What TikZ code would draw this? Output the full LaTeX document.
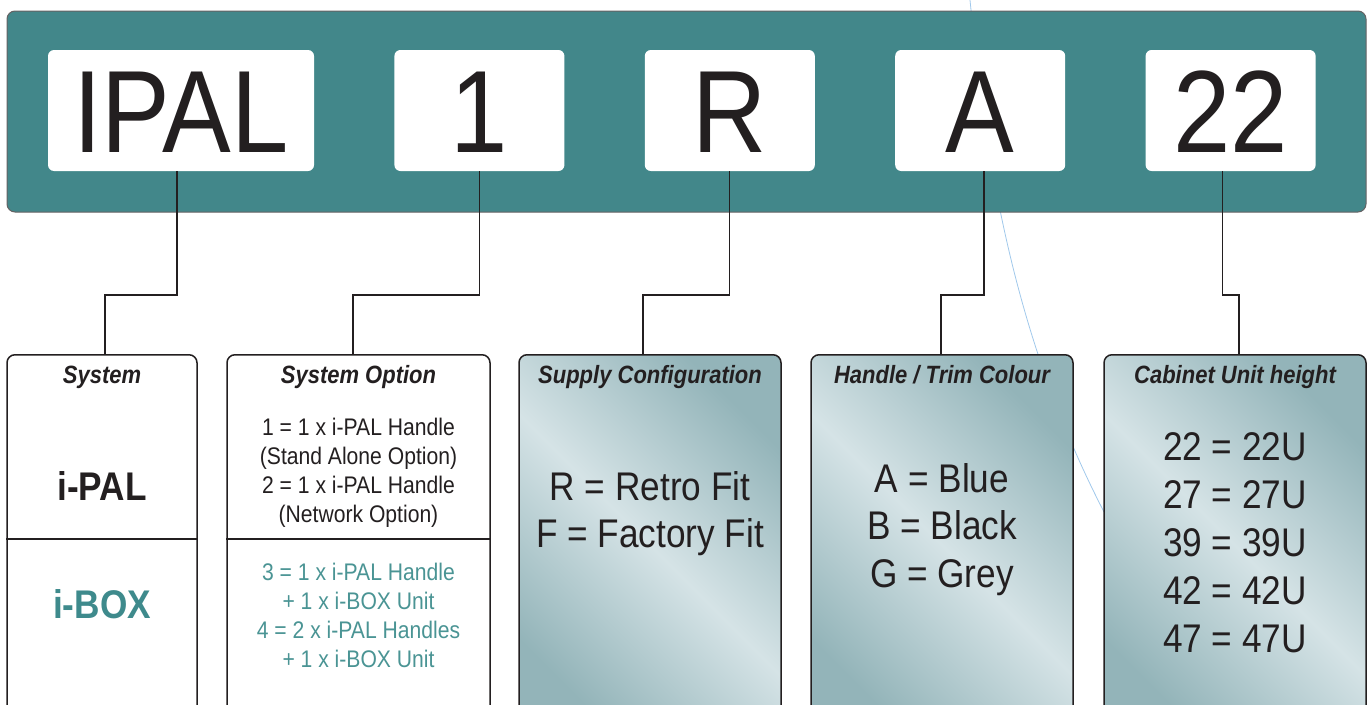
\documentclass[tikz,border=0pt]{standalone}
\usepackage{fontspec}
\newfontfamily\hfont[FakeStretch=0.88]{Liberation Sans}
\usetikzlibrary{positioning}
\definecolor{barteal}{RGB}{66,135,138}
\definecolor{ibox}{RGB}{62,138,140}
\definecolor{optteal}{RGB}{74,148,148}
\definecolor{ink}{RGB}{35,31,32}
\definecolor{shdark}{RGB}{147,180,185}
\definecolor{shlight}{RGB}{213,227,230}
\definecolor{streak}{RGB}{160,200,235}

\begin{document}
\begin{tikzpicture}[x=1pt, y=-1pt]
    \tikzstyle{codebox}=[fill=white, rounded corners=6pt, minimum height=121pt, inner sep=0pt, text height=84pt, text depth=0pt, text=ink, font=\hfont\fontsize{117}{117}\selectfont]
    \tikzstyle{keybox}=[draw=ink, fill=white, line width=1.5pt, rounded corners=8pt, minimum height=380pt, anchor=north]
    \tikzstyle{tinted}=[keybox, top color=shdark, bottom color=shdark, middle color=shlight, shading angle=-45]
    \tikzstyle{head}=[anchor=base, inner sep=0pt, text=ink, font=\hfont\bfseries\itshape\fontsize{25}{25}\selectfont]
    \tikzstyle{entry}=[anchor=north, inner sep=0pt, align=center, text=ink, font=\hfont\fontsize{40}{47.5}\selectfont]
    \tikzstyle{link}=[draw=ink, line width=1.6pt]

    \useasboundingbox (0,0) rectangle (1370,704);
    \clip (0,0) rectangle (1370,704);

% faint streak behind everything
    \draw[streak, line width=0.8pt] (970,0) .. controls (985,150) and (1010,330) .. (1104,512);

% the code bar
    \node[fill=barteal, draw=ink!70, line width=1pt, rounded corners=8pt, minimum width=1359pt, minimum height=201pt] (bar) at (686.5,111.5) {};
    \node[codebox, minimum width=266pt] (codeipal) at (181,110.5) {IPAL};
    \node[codebox, minimum width=170pt, right=80pt of codeipal] (codeopt) {1};
    \node[codebox, minimum width=170pt, right=80pt of codeopt] (codesup) {R};
    \node[codebox, minimum width=170pt, right=80pt of codesup] (codecol) {A};
    \node[codebox, minimum width=170pt, right=80pt of codecol] (codeht) {22};

% the key boxes
    \node[keybox, minimum width=190pt] (sys) at (102,354) {};
    \node[keybox, minimum width=263pt] (option) at (358.5,354) {};
    \node[tinted, minimum width=262pt] (supply) at (650,354) {};
    \node[tinted, minimum width=262pt] (handle) at (942,354) {};
    \node[tinted, minimum width=262pt] (cabinet) at (1235,354) {};
    \draw[ink, line width=1.5pt] (sys.west |- 0,539) -- (sys.east |- 0,539);
    \draw[ink, line width=1.5pt] (option.west |- 0,539) -- (option.east |- 0,539);

    \node[head] (syshead) at (102,383) {System};
    \node[head] (opthead) at (358.5,383) {System Option};
    \node[head] (suphead) at (650,383) {Supply Configuration};
    \node[head] (colhead) at (942,383) {Handle / Trim Colour};
    \node[head] (hthead) at (1235,383) {Cabinet Unit height};

    \node[anchor=base, inner sep=0pt, text=ink, font=\hfont\bfseries\fontsize{40}{40}\selectfont] (ipalname) at (102,500) {i-PAL};
    \node[anchor=base, inner sep=0pt, text=ibox, font=\hfont\bfseries\fontsize{40}{40}\selectfont] (iboxname) at (102,618) {i-BOX};

    \node[entry, font=\hfont\fontsize{24}{29}\selectfont] (optpal) at (358.5,418) {1 = 1 x i-PAL Handle\\(Stand Alone Option)\\2 = 1 x i-PAL Handle\\(Network Option)};
    \node[entry, text=optteal, font=\hfont\fontsize{24}{29}\selectfont] (optbox) at (358.5,563) {3 = 1 x i-PAL Handle\\+ 1 x i-BOX Unit\\4 = 2 x i-PAL Handles\\+ 1 x i-BOX Unit};
    \node[entry] (suptext) at (650,471) {R = Retro Fit\\F = Factory Fit};
    \node[entry] (coltext) at (942,463) {A = Blue\\B = Black\\G = Grey};
    \node[entry, font=\hfont\fontsize{40}{48}\selectfont] (httext) at (1235,432) {22 = 22U\\27 = 27U\\39 = 39U\\42 = 42U\\47 = 47U};

% connectors
    \draw[link] ([xshift=-4pt]codeipal.south) -- ++(0,124) -| ([xshift=3pt]sys.north);
    \draw[link] (codeopt.south) -- ++(0,124) -| ([xshift=-5.5pt]option.north);
    \draw[link] ([xshift=-0.5pt]codesup.south) -- ++(0,124) -| ([xshift=-7pt]supply.north);
    \draw[link] ([xshift=4pt]codecol.south) -- ++(0,124) -| ([xshift=-1pt]handle.north);
    \draw[link] ([xshift=-8pt]codeht.south) -- ++(0,124) -| ([xshift=4pt]cabinet.north);

\end{tikzpicture}
\end{document}
